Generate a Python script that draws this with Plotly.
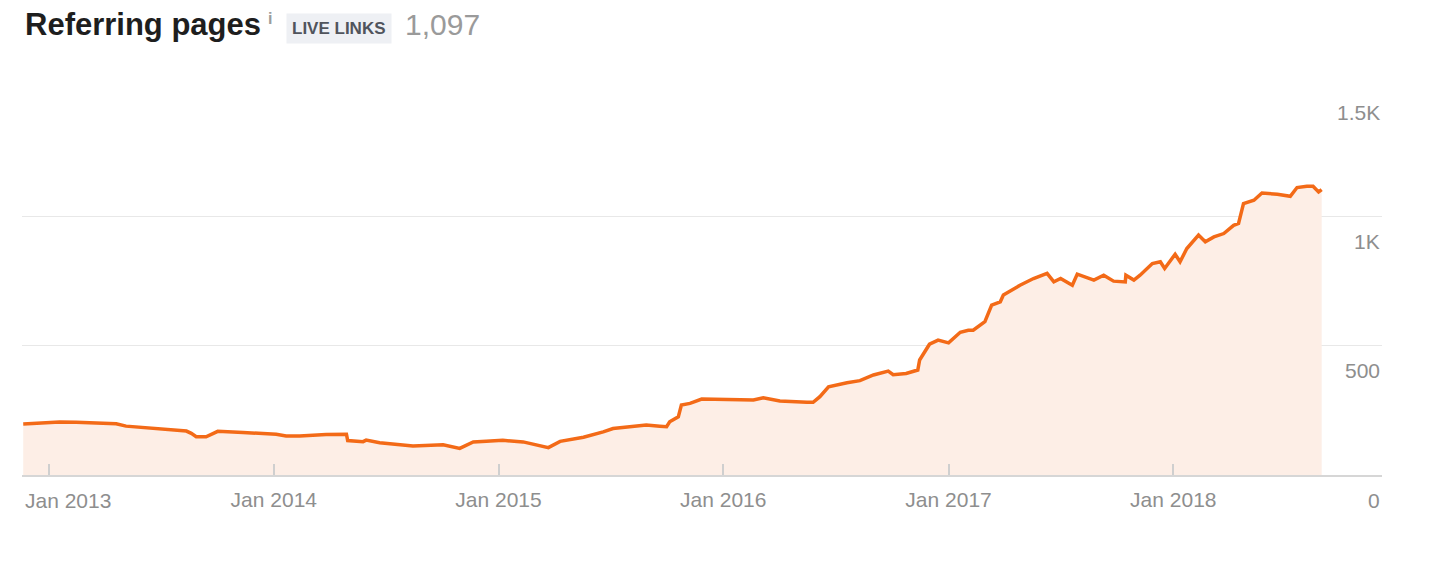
import plotly.graph_objects as go

# ---------------- data ----------------
dates = [
    "2012-11-20", "2013-01-02", "2013-01-18", "2013-02-14", "2013-04-20", "2013-05-06",
    "2013-06-29", "2013-08-12", "2013-08-20", "2013-08-28", "2013-09-13", "2013-10-02",
    "2013-11-12", "2014-01-05", "2014-01-21", "2014-02-12", "2014-03-27", "2014-04-18",
    "2014-04-29", "2014-05-01", "2014-05-26", "2014-05-31", "2014-06-22", "2014-08-15",
    "2014-09-11", "2014-10-03", "2014-10-30", "2014-11-21", "2014-12-12", "2015-01-08",
    "2015-02-10", "2015-03-04", "2015-03-23", "2015-04-11", "2015-05-19", "2015-06-20",
    "2015-07-06", "2015-08-02", "2015-08-29", "2015-09-20", "2015-10-01", "2015-10-06",
    "2015-10-20", "2015-10-25", "2015-11-08", "2015-11-27", "2016-01-01", "2016-02-19",
    "2016-03-06", "2016-04-02", "2016-05-16", "2016-05-26", "2016-06-06", "2016-06-20",
    "2016-07-20", "2016-08-10", "2016-09-01", "2016-09-25", "2016-10-03", "2016-10-24",
    "2016-11-12", "2016-11-15", "2016-12-01", "2016-12-15", "2017-01-01", "2017-01-20",
    "2017-02-02", "2017-02-10", "2017-03-01", "2017-03-12", "2017-03-26", "2017-03-31",
    "2017-04-27", "2017-05-19", "2017-06-10", "2017-06-21", "2017-07-02", "2017-07-21",
    "2017-07-29", "2017-08-09", "2017-08-25", "2017-09-10", "2017-09-26", "2017-10-15",
    "2017-10-16", "2017-10-29", "2017-11-08", "2017-11-28", "2017-12-11", "2017-12-18",
    "2018-01-04", "2018-01-12", "2018-01-23", "2018-02-11", "2018-02-22", "2018-03-08",
    "2018-03-24", "2018-04-09", "2018-04-17", "2018-04-25", "2018-05-12", "2018-05-25",
    "2018-06-19", "2018-07-10", "2018-07-21", "2018-08-06", "2018-08-16", "2018-08-25",
    "2018-08-30",
]
referring_pages = [
    197, 202, 205, 204, 198, 189,
    178, 170, 161, 148, 148, 169,
    164, 158, 151, 151, 157, 156,
    158, 133, 129, 135, 125, 112,
    115, 117, 103, 128, 131, 134,
    128, 115, 106, 130, 146, 167,
    180, 187, 193, 189, 187, 206,
    225, 271, 277, 294, 293, 290,
    299, 286, 281, 281, 303, 341,
    357, 365, 387, 402, 388, 393,
    406, 445, 506, 522, 511, 552,
    560, 560, 593, 657, 670, 696,
    734, 760, 780, 747, 760, 734,
    777, 769, 754, 773, 750, 747,
    773, 754, 773, 818, 825, 799,
    854, 825, 876, 928, 902, 921,
    934, 966, 973, 1050, 1063, 1091,
    1086, 1078, 1112, 1117, 1117, 1095,
    1104,
]

x_tick_vals = ["2013-01-01", "2014-01-01", "2015-01-01", "2016-01-01", "2017-01-01", "2018-01-01"]
x_tick_text = ["Jan 2013", "Jan 2014", "Jan 2015", "Jan 2016", "Jan 2017", "Jan 2018"]
y_tick_vals = [0, 500, 1000, 1500]
y_tick_text = ["0", "500", "1K", "1.5K"]

title_text = "Referring pages"
badge_text = "LIVE LINKS"
total_text = "1,097"

# ---------------- layout geometry ----------------
# the page body has an 8px margin, so the figure starts at (8, 8) in the window
OFF = 8
W, H = 1442 - OFF, 574 - OFF
ML, MR, MT, MB = 22 - OFF, 60, 87 - OFF, 99
PW, PH = W - ML - MR, H - MT - MB


def px(xp):
    """window pixel x -> paper x"""
    return (xp - OFF - ML) / PW


def py(yp):
    """window pixel y -> paper y"""
    return (H - MB - (yp - OFF)) / PH


FONT = "Liberation Sans, Arial, sans-serif"
GRAY = "#8e8e8e"

# the first month label is pinned to the plot's left edge (as in the reference),
# the others stay centred on their ticks
x_tick_labels = [""] + x_tick_text[1:]

fig = go.Figure()
fig.add_trace(go.Scatter(
    x=dates, y=referring_pages, mode="lines",
    line=dict(color="#f36a17", width=3.5),
    fill="tozeroy", fillcolor="#fdeee6",
    hoverinfo="skip", showlegend=False,
))

annotations = [dict(
    x=0, xref="paper", y=0, yref="paper", text=x_tick_text[0], showarrow=False,
    xanchor="left", yanchor="middle", yshift=-25, xshift=1,
    font=dict(family=FONT, size=21, color=GRAY),
)]
for v, t in zip(y_tick_vals, y_tick_text):
    annotations.append(dict(
        x=1, xref="paper", y=v, yref="y", text=t, showarrow=False,
        xanchor="right", yanchor="middle", yshift=-25,
        font=dict(family=FONT, size=21, color=GRAY),
    ))

annotations += [
    dict(x=px(23), y=py(25), xref="paper", yref="paper", text="<b>" + title_text + "</b>",
         showarrow=False, xanchor="left", yanchor="middle",
         font=dict(family=FONT, size=31, color="#1e1e1e")),
    dict(x=px(270), y=py(19), xref="paper", yref="paper", text="<b>i</b>",
         showarrow=False, xanchor="center", yanchor="middle",
         font=dict(family=FONT, size=16, color="#9c9c9c")),
    dict(x=px(339), y=py(28), xref="paper", yref="paper", text="<b>" + badge_text + "</b>",
         showarrow=False, xanchor="center", yanchor="middle",
         bgcolor="#eef0f4", borderpad=5,
         font=dict(family=FONT, size=17, color="#50545c")),
    dict(x=px(403), y=py(25), xref="paper", yref="paper", text=total_text,
         showarrow=False, xanchor="left", yanchor="middle",
         font=dict(family=FONT, size=30, color="#9a9a9a")),
]

fig.update_layout(
    width=W, height=H,
    margin=dict(l=ML, r=MR, t=MT, b=MB, pad=0, autoexpand=False),
    paper_bgcolor="white", plot_bgcolor="white",
    font=dict(family=FONT, color=GRAY),
    annotations=annotations,
    xaxis=dict(
        type="date", range=["2012-11-18", "2018-12-06"],
        tickvals=x_tick_vals, ticktext=x_tick_labels,
        ticks="inside", ticklen=11, tickwidth=1.5, tickcolor="#cfcfcf",
        showgrid=False, zeroline=False,
        showline=True, linecolor="#d6d6d6", linewidth=2,
        tickfont=dict(family=FONT, size=21, color=GRAY),
        ticklabelstandoff=5, ticklabeloverflow="allow",
        automargin=False,
        fixedrange=True,
    ),
    yaxis=dict(
        range=[0, 1501], tickvals=y_tick_vals, showticklabels=False,
        showgrid=True, gridcolor="#e8e8e8", gridwidth=1.2,
        zeroline=False, showline=False, ticks="",
        automargin=False,
        fixedrange=True,
    ),
)

fig.write_html("out.html")
